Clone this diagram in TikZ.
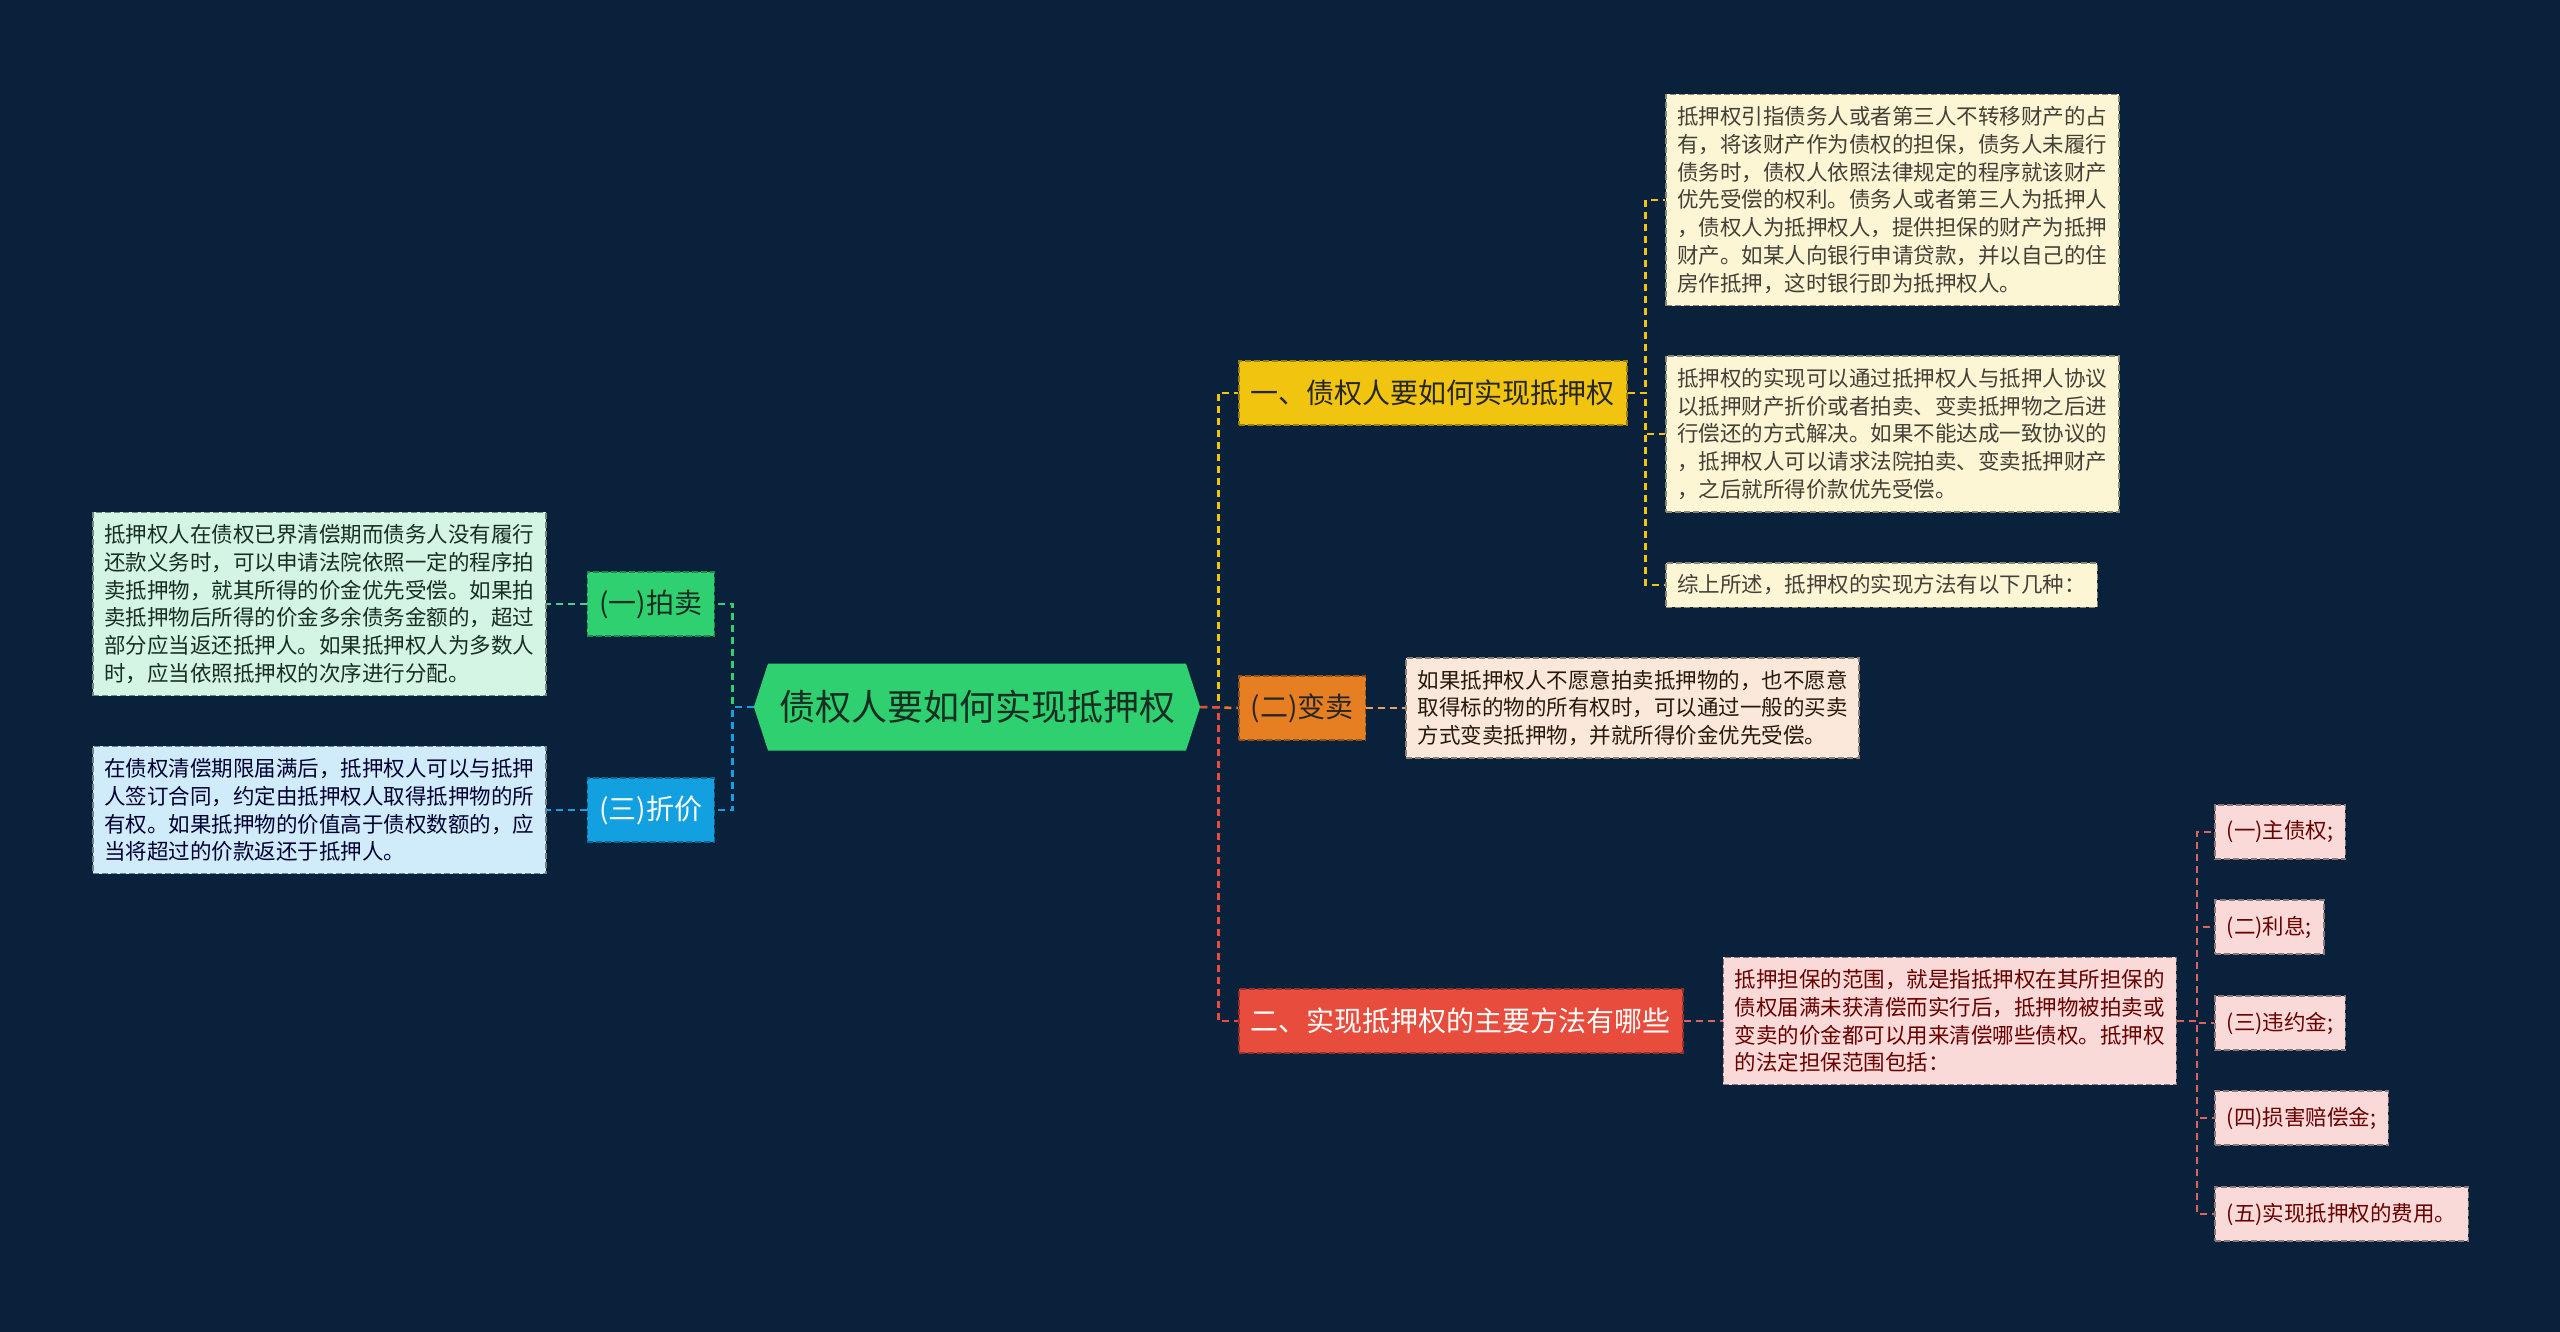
\documentclass[tikz,border=0pt]{standalone}
\usepackage{fontspec}
\setmainfont{Noto Sans CJK SC}
\usepackage{xcolor}
\definecolor{bgnavy}{RGB}{10,33,59}
\definecolor{mgreen}{RGB}{46,208,112}
\definecolor{myellow}{RGB}{241,196,15}
\definecolor{morange}{RGB}{230,126,34}
\definecolor{mred}{RGB}{231,76,60}
\definecolor{mblue}{RGB}{18,160,224}
\definecolor{cream}{RGB}{253,246,212}
\definecolor{peach}{RGB}{251,232,218}
\definecolor{pink}{RGB}{250,218,216}
\definecolor{mint}{RGB}{212,245,228}
\definecolor{sky}{RGB}{208,235,249}
\definecolor{peachline}{RGB}{233,160,105}
\definecolor{pinkline}{RGB}{214,102,96}
\definecolor{mintline}{RGB}{80,205,145}
\definecolor{darkink}{RGB}{24,46,34}
\usepackage{tikz}
\usetikzlibrary{positioning,shapes.symbols}
\tikzset{
  root/.style={signal,signal to=east and west,signal pointer angle=144,%
    fill=mgreen,text=darkink,font=\fontsize{36}{40}\selectfont,inner xsep=11pt,minimum height=87pt},
  branch/.style={draw=#1!65!black,fill=#1,dash pattern=on 6pt off 3pt,line width=1.5pt,%
    font=\fontsize{28}{32}\selectfont,inner xsep=12pt,minimum height=64pt},
  note/.style={draw=#1!55!black,fill=#1,dash pattern=on 6pt off 3pt,line width=1.5pt,%
    font=\fontsize{21.5}{27.8}\selectfont,inner xsep=11.5pt,inner ysep=12pt,align=left},
  leaf/.style={draw=#1!55!black,fill=#1,dash pattern=on 6pt off 3pt,line width=1.5pt,%
    font=\fontsize{21.5}{26}\selectfont,inner xsep=12pt,minimum height=54pt},
  link/.style={draw=#1,line width=2.5pt,dash pattern=on 7pt off 5pt},
}
\begin{document}
\begin{tikzpicture}[x=1pt,y=-1pt,node distance=39pt]
\useasboundingbox (0,0) rectangle (2560,1331);
\fill[bgnavy] (-10,-10) rectangle (2570,1341);
\node[root] (root) at (977,707) {债权人要如何实现抵押权};
\node[branch=myellow,text=black!85,anchor=west] (b1) at (1238,393) {一、债权人要如何实现抵押权};
\node[branch=morange,text=black!85,anchor=west] (b2) at (1238,708) {(二)变卖};
\node[branch=mred,text=white,anchor=west] (b3) at (1238,1021) {二、实现抵押权的主要方法有哪些};
\node[branch=mgreen,text=darkink,anchor=east] (l1) at (715,604) {(一)拍卖};
\node[branch=mblue,text=white,anchor=east] (l2) at (715,810) {(三)折价};
\node[note=cream,text=black!75!yellow!60!black,anchor=west] (c1) at (1665,200) {抵押权引指债务人或者第三人不转移财产的占\\
有，将该财产作为债权的担保，债务人未履行\\债务时，债权人依照法律规定的程序就该财产\\
优先受偿的权利。债务人或者第三人为抵押人\\，债权人为抵押权人，提供担保的财产为抵押\\
财产。如某人向银行申请贷款，并以自己的住\\房作抵押，这时银行即为抵押权人。};
\node[note=cream,text=black!75!yellow!60!black,anchor=west] (c2) at (1665,434) {抵押权的实现可以通过抵押权人与抵押人协议\\
以抵押财产折价或者拍卖、变卖抵押物之后进\\行偿还的方式解决。如果不能达成一致协议的\\
，抵押权人可以请求法院拍卖、变卖抵押财产\\，之后就所得价款优先受偿。};
\node[note=cream,text=black!75!yellow!60!black,anchor=west] (c3) at (1665,585) {综上所述，抵押权的实现方法有以下几种：};
\node[note=peach,text=black!80!brown,right=of b2] (t2) {如果抵押权人不愿意拍卖抵押物的，也不愿意\\
取得标的物的所有权时，可以通过一般的买卖\\方式变卖抵押物，并就所得价金优先受偿。};
\node[note=pink,text=red!40!black,right=of b3] (p) {抵押担保的范围，就是指抵押权在其所担保的\\
债权届满未获清偿而实行后，抵押物被拍卖或\\变卖的价金都可以用来清偿哪些债权。抵押权\\的法定担保范围包括：};
\node[note=mint,text=darkink,left=40pt of l1] (lt1) {抵押权人在债权已界清偿期而债务人没有履行\\
还款义务时，可以申请法院依照一定的程序拍\\卖抵押物，就其所得的价金优先受偿。如果拍\\
卖抵押物后所得的价金多余债务金额的，超过\\部分应当返还抵押人。如果抵押权人为多数人\\
时，应当依照抵押权的次序进行分配。};
\node[note=sky,text=black!80!blue,left=40pt of l2] (lt2) {在债权清偿期限届满后，抵押权人可以与抵押\\
人签订合同，约定由抵押权人取得抵押物的所\\有权。如果抵押物的价值高于债权数额的，应\\
当将超过的价款返还于抵押人。};
\node[leaf=pink,text=red!40!black,anchor=west] (s1) at (2214,832) {(一)主债权;};
\node[leaf=pink,text=red!40!black,anchor=west] (s2) at (2214,927) {(二)利息;};
\node[leaf=pink,text=red!40!black,anchor=west] (s3) at (2214,1023) {(三)违约金;};
\node[leaf=pink,text=red!40!black,anchor=west] (s4) at (2214,1118) {(四)损害赔偿金;};
\node[leaf=pink,text=red!40!black,anchor=west] (s5) at (2214,1214) {(五)实现抵押权的费用。};
\draw[link=myellow] (root.east) -- ++(18,0) |- (b1.west);
\draw[link=morange] (root.east) -- (b2.west);
\draw[link=mred] (root.east) -- ++(18,0) |- (b3.west);
\draw[link=mgreen] (root.west) -- ++(-21,0) |- (l1.east);
\draw[link=mblue] (root.west) -- ++(-21,0) |- (l2.east);
\draw[link=myellow] (b1.east) -- ++(18,0) |- (c1.west);
\draw[link=myellow] (b1.east) -- ++(18,0) |- (c2.west);
\draw[link=myellow] (b1.east) -- ++(18,0) |- (c3.west);
\draw[link=peachline] (b2.east) -- (t2.west);
\draw[link=pinkline] (b3.east) -- (p.west);
\draw[link=mintline] (l1.west) -- (lt1.east);
\draw[link=mblue] (l2.west) -- (lt2.east);
\draw[link=pinkline] (p.east) -- ++(20,0) |- (s1.west);
\draw[link=pinkline] (p.east) -- ++(20,0) |- (s2.west);
\draw[link=pinkline] (p.east) -- ++(20,0) |- (s3.west);
\draw[link=pinkline] (p.east) -- ++(20,0) |- (s4.west);
\draw[link=pinkline] (p.east) -- ++(20,0) |- (s5.west);
\end{tikzpicture}
\end{document}
